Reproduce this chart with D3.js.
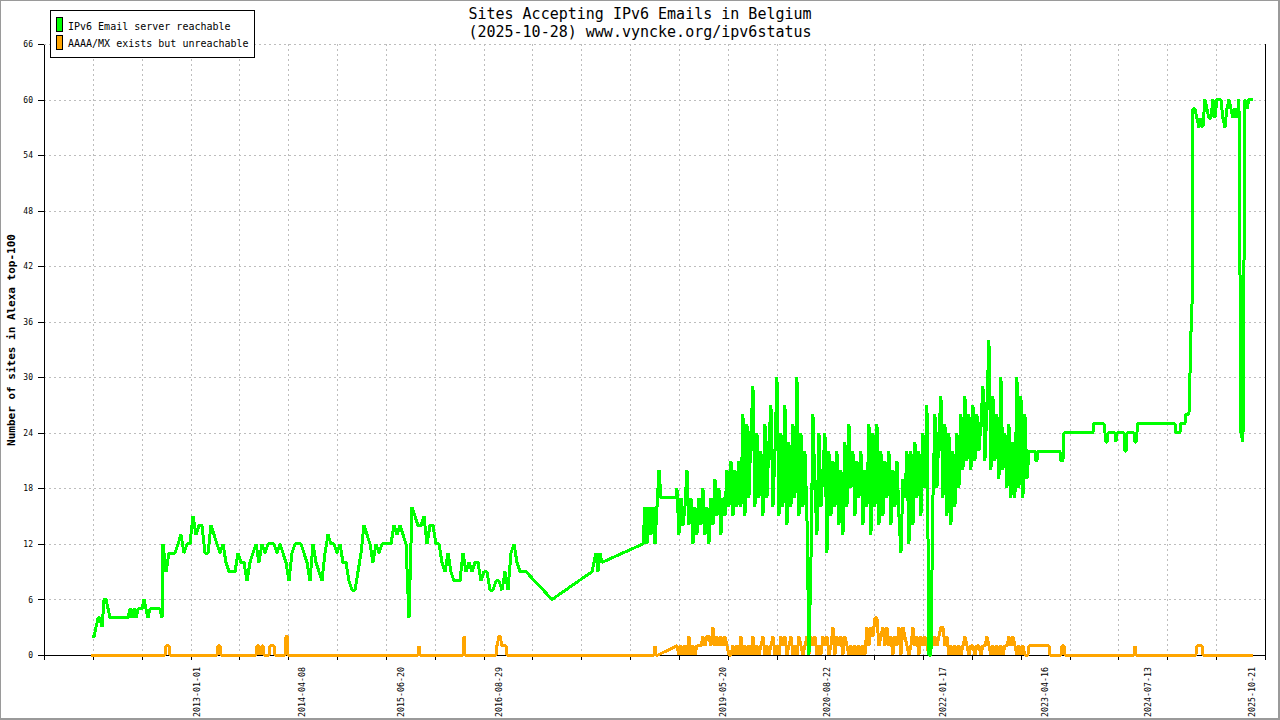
<!DOCTYPE html>
<html><head><meta charset="utf-8">
<script src="https://cdn.jsdelivr.net/npm/d3@7"></script>
<style>
html,body{margin:0;padding:0;background:#fff;}
svg{display:block;font-family:"DejaVu Sans Mono",monospace;}
</style></head><body>
<svg id="chart" width="1280" height="720"></svg>
<script>
// ---------- DATA (x values are decimal years) ----------
const titleLines = ["Sites Accepting IPv6 Emails in Belgium", "(2025-10-28) www.vyncke.org/ipv6status"];
const yAxisTitle = "Number of sites in Alexa top-100";
const seriesNames = ["IPv6 Email server reachable", "AAAA/MX exists but unreachable"];
const seriesColors = ["#00ff00", "#ffa500"];

const xDomain = [2011.143, 2025.960];
const xTickIntervals = 25;
const xLabels = ["2013-01-01","2014-04-08","2015-06-20","2016-08-29","2019-05-20","2020-08-22","2022-01-17","2023-04-16","2024-07-13","2025-10-21"];
const yTicks = [0,6,12,18,24,30,36,42,48,54,60,66];

// Green: regularly sampled blocks [startYear, endYear, values]
const green2011 = [2011.726, 2012.575, [2,2,3,4,4,3,6,6,5,4,4,4,4,4,4,4,4,4,4,5,4,5,4,5,5,5,6,5,4,5,5,5,5,5,5,4]];
const green2012 = [2012.587, 2016.992, [
 12,9,11,11,11,12,13,11,12,12,
 15,13,14,14,11,11,14,13,12,11,
 12,10,9,9,9,11,10,10,8,10,
 11,12,10,12,11,12,12,12,11,12,
 11,10,8,11,12,12,12,11,10,8,
 12,10,9,8,11,13,12,12,11,12,
 10,10,8,7,7,9,11,14,13,12,
 10,12,11,12,12,12,12,14,13,14,
 13,12,4,16,15,14,14,15,12,14,
 14,12,12,10,9,11,9,8,8,8,
 11,9,10,9,10,10,8,9,9,7,
 7,8,8,7,9,7,11,12,10,9,
 9,9]];
const green2017 = [2017.793, 2017.914, [9,10,11,9,11,10]];
const green2018 = [2018.436, 2018.606, [16,12,16,13,16,12,16,20]];
const green2019 = [2018.824, 2023.071, [
 18,13,17,14,16,20,14,17,12,16,
 13,17,14,18,13,16,12,17,14,19,
 15,18,13,17,15,20,16,21,15,20,
 16,21,16,26,15,25,17,24,29,16,
 24,17,22,15,25,17,23,27,16,22,
 30,15,24,16,27,14,23,16,25,17,
 30,15,24,16,22,15,0,10,26,18,
 13,24,16,20,24,11,22,15,21,16,
 22,14,20,13,23,16,25,18,22,15,
 21,17,22,14,20,16,25,13,24,16,
 25,14,22,15,21,17,22,14,20,16,
 21,15,11,19,17,22,12,22,14,23,
 17,22,15,24,18,27,0,0,17,26,
 18,24,28,17,25,15,24,14,22,16,
 24,18,26,20,28,21,26,20,27,21,
 26,22,25,29,21,27,34,20,28,21,
 26,19,30,20,24,18,25,17,23,17,
 30,18,28,17,26,19]];
const green2025 = [2025.085, 2025.814, [59,59,58,57,58,57,60,59,58,58,60,58,60,60,60,58,57,59,60,59,58,59,58,60,24,23,60,59,60,60,60]];
// Green: individual points
const greenX = [2017.308, 2018.412, 2018.630, 2018.812,
 2023.096, 2023.168, 2023.181, 2023.193, 2023.205, 2023.472, 2023.484, 2023.508, 2023.520,
 2023.872, 2023.884, 2024.006, 2024.018, 2024.030, 2024.042, 2024.054, 2024.139, 2024.151,
 2024.163, 2024.248, 2024.260, 2024.273, 2024.285, 2024.370, 2024.382, 2024.394, 2024.406,
 2024.418, 2024.867, 2024.879, 2024.928, 2024.940, 2024.988, 2025.001, 2025.037, 2025.049,
 2025.061, 2025.073];
const greenY = [6, 12, 17, 17,
 22, 22, 21, 21, 22, 22, 21, 21, 24,
 24, 25, 25, 24, 23, 23, 24, 24, 23,
 24, 24, 22, 22, 24, 24, 23, 23, 24,
 25, 25, 24, 24, 25, 25, 26, 26, 30,
 35, 35];

// Orange: regularly sampled block and individual points
const orange2019 = [2018.824, 2023.071, [
 1,0,1,0,1,0,2,0,1,0,
 1,1,1,2,1,2,2,1,3,1,
 2,1,2,1,2,1,0,0,1,0,
 1,0,2,0,1,0,1,0,2,0,
 1,0,1,2,0,1,0,1,2,0,
 1,0,2,1,2,0,1,2,0,1,
 0,2,1,0,1,2,0,2,1,2,
 0,1,0,2,1,2,0,1,3,0,
 2,1,2,0,2,1,0,1,0,1,
 0,1,0,1,0,3,1,3,2,4,
 4,1,2,3,1,3,1,2,0,2,
 1,3,0,3,2,1,0,1,3,1,
 2,0,2,1,2,1,0,2,1,2,
 1,2,3,3,1,2,0,1,0,1,
 0,1,0,1,2,1,0,1,1,0,
 1,1,0,1,1,2,1,0,1,0,
 1,0,1,0,1,1,2,1,2,1,
 0,1,0,1,0,0]];
const orangeX = [2011.714, 2012.612, 2012.624, 2012.660, 2012.672, 2013.243, 2013.255, 2013.279, 2013.291,
 2013.716, 2013.728, 2013.752, 2013.764, 2013.789, 2013.801, 2013.813, 2013.874, 2013.886, 2013.934,
 2013.946, 2014.068, 2014.080, 2014.092, 2014.104, 2015.682, 2015.694, 2015.706, 2016.228, 2016.240,
 2016.252, 2016.628, 2016.640, 2016.664, 2016.677, 2016.701, 2016.750, 2016.761, 2018.545, 2018.557,
 2018.569, 2018.594,
 2023.083, 2023.096, 2023.338, 2023.350, 2023.484, 2023.496, 2023.520, 2023.532, 2024.370, 2024.382,
 2024.394, 2025.122, 2025.134, 2025.195, 2025.207, 2025.814];
const orangeY = [0, 0, 1, 1, 0, 0, 1, 1, 0,
 0, 1, 1, 0, 1, 1, 0, 0, 1, 1,
 0, 0, 2, 2, 0, 0, 1, 0, 0, 2,
 0, 0, 1, 2, 2, 1, 1, 0, 0, 1,
 0, 0,
 0, 1, 1, 0, 0, 1, 1, 0, 0, 1,
 0, 0, 1, 1, 0, 0];

// ---------- BUILD ----------
function expand(blocks){
  return blocks.flatMap(([s,e,vals]) => vals.map((v,i) => [s + (vals.length > 1 ? i*(e-s)/(vals.length-1) : 0), v]));
}
function merge(blocks, xs, ys){
  return expand(blocks).concat(d3.zip(xs, ys)).sort((a,b) => a[0]-b[0]);
}
const greenData = merge([green2011, green2012, green2017, green2018, green2019, green2025], greenX, greenY);
const orangeData = merge([orange2019], orangeX, orangeY);

function yearOf(s){
  const [Y,M,D] = s.split("-").map(Number);
  const a = Date.UTC(Y,0,1), b = Date.UTC(Y+1,0,1);
  return Y + (Date.UTC(Y,M-1,D) - a)/(b - a);
}

const svg = d3.select("#chart");
const W = 1280, H = 720;
const plot = {left:44, right:1265, top:44, bottom:655};

svg.append("rect").attr("x",0).attr("y",0).attr("width",W).attr("height",H).attr("fill","#fff");

const x = d3.scaleLinear().domain(xDomain).range([plot.left, plot.right]);
const y = d3.scaleLinear().domain([0,66]).range([plot.bottom, plot.top]);
const xTickVals = d3.range(xTickIntervals+1).map(i => xDomain[0] + i*(xDomain[1]-xDomain[0])/xTickIntervals);

// grid
const grid = svg.append("g").attr("stroke","#bdbdbd").attr("stroke-width",1).attr("stroke-dasharray","2,3").attr("shape-rendering","crispEdges");
grid.selectAll("line.h").data(yTicks.filter(d => d > 0)).join("line")
  .attr("x1", plot.left).attr("x2", plot.right)
  .attr("y1", d => Math.round(y(d))+0.5).attr("y2", d => Math.round(y(d))+0.5);
grid.selectAll("line.v").data(xTickVals.slice(1, -1)).join("line")
  .attr("x1", d => Math.round(x(d))+0.5).attr("x2", d => Math.round(x(d))+0.5)
  .attr("y1", plot.top).attr("y2", plot.bottom);

// right border of plot
svg.append("line").attr("x1", plot.right+0.5).attr("x2", plot.right+0.5)
  .attr("y1", plot.top).attr("y2", plot.bottom).attr("stroke","#000").attr("shape-rendering","crispEdges");

// axes
const xAxis = svg.append("g").attr("transform", `translate(0,${plot.bottom})`)
  .call(d3.axisBottom(x).tickValues(xTickVals).tickFormat("").tickSize(5).tickSizeOuter(0));
xAxis.selectAll("path,line").attr("stroke","#000").attr("shape-rendering","crispEdges");

const xLab = svg.append("g").attr("transform", `translate(0,${plot.bottom})`)
  .call(d3.axisBottom(x).tickValues(xLabels.map(yearOf)).tickFormat((d,i) => xLabels[i]).tickSize(0).tickSizeOuter(0));
xLab.select(".domain").remove();
xLab.selectAll("text")
  .attr("font-family","'DejaVu Sans Mono',monospace").attr("font-size","8.3px").attr("fill","#000")
  .attr("transform","rotate(-90)").attr("text-anchor","end")
  .attr("x", -12).attr("y", 0).attr("dy","0.35em");

const yAxis = svg.append("g").attr("transform", `translate(${plot.left},0)`)
  .call(d3.axisLeft(y).tickValues(yTicks).tickSize(6).tickSizeOuter(0).tickPadding(5));
yAxis.selectAll("path,line").attr("stroke","#000").attr("shape-rendering","crispEdges");
yAxis.selectAll("text").attr("font-family","'DejaVu Sans Mono',monospace").attr("font-size","8px").attr("fill","#000");

// series lines (orange under green)
const line = d3.line().x(d => x(d[0])).y(d => y(d[1]));
svg.append("path").datum(orangeData).attr("d", line)
  .attr("fill","none").attr("stroke", seriesColors[1]).attr("stroke-width",3)
  .attr("stroke-linejoin","bevel").attr("shape-rendering","crispEdges");
svg.append("path").datum(greenData).attr("d", line)
  .attr("fill","none").attr("stroke", seriesColors[0]).attr("stroke-width",3)
  .attr("stroke-linejoin","bevel").attr("shape-rendering","crispEdges");

// titles
svg.selectAll("text.title").data(titleLines).join("text").attr("class","title")
  .attr("x", 640).attr("y", (d,i) => 19 + i*18).attr("text-anchor","middle")
  .attr("font-size","15px").attr("fill","#000").text(d => d);

svg.append("text").attr("transform","translate(11,340) rotate(-90)")
  .attr("text-anchor","middle").attr("dy","0.35em")
  .attr("font-size","11px").attr("font-weight","bold").attr("fill","#000").text(yAxisTitle);

// legend
const lg = svg.append("g");
lg.append("rect").attr("x",50.5).attr("y",10.5).attr("width",204).attr("height",47)
  .attr("fill","#fff").attr("stroke","#000").attr("shape-rendering","crispEdges");
seriesNames.forEach((name, i) => {
  lg.append("rect").attr("x",56.5).attr("y",17.5 + i*18).attr("width",6).attr("height",14)
    .attr("fill", seriesColors[i]).attr("stroke","#000").attr("shape-rendering","crispEdges");
  lg.append("text").attr("x",68).attr("y",29.5 + i*17.5).attr("font-size","10px").attr("fill","#000").text(name);
});

// outer frame
svg.append("rect").attr("x",0.5).attr("y",0.5).attr("width",W-1).attr("height",H-1)
  .attr("fill","none").attr("stroke","#9a9a9a").attr("stroke-width",1).attr("shape-rendering","crispEdges");
svg.append("line").attr("x1",W-1.5).attr("x2",W-1.5).attr("y1",0).attr("y2",H).attr("stroke","#9a9a9a").attr("shape-rendering","crispEdges");
svg.append("line").attr("x1",0).attr("x2",W).attr("y1",H-1.5).attr("y2",H-1.5).attr("stroke","#9a9a9a").attr("shape-rendering","crispEdges");
</script></body></html>
